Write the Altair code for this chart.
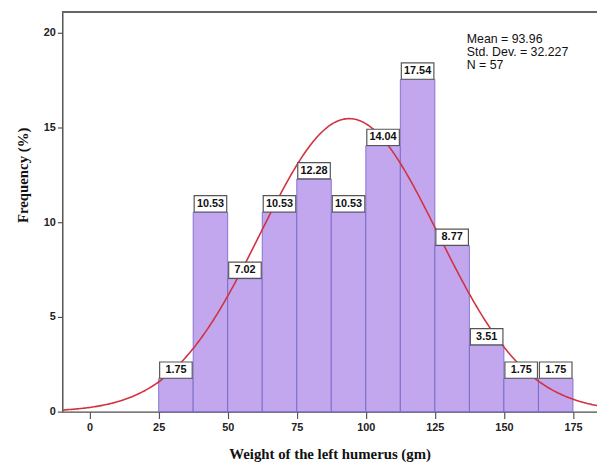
import altair as alt
import pandas as pd

bin_start = [25, 37.5, 50, 62.5, 75, 87.5, 100, 112.5, 125, 137.5, 150, 162.5]
bin_end = [37.5, 50, 62.5, 75, 87.5, 100, 112.5, 125, 137.5, 150, 162.5, 175]
percent = [1.75, 10.53, 7.02, 10.53, 12.28, 10.53, 14.04, 17.54, 8.77, 3.51, 1.75, 1.75]
x_ticks = [0, 25, 50, 75, 100, 125, 150, 175]
y_ticks = [0, 5, 10, 15, 20]
mean_val = 93.96
sd_val = 32.227
n_val = 57
bin_width = 12.5
stats_text = "Mean = 93.96\nStd. Dev. = 32.227\nN = 57"

W, H = 542, 405
XDOM = [-9.9, 183.7]
YDOM = [0, 21.1]

df = pd.DataFrame({"start": bin_start, "end": bin_end, "pct": percent})
df["mid"] = (df["start"] + df["end"]) / 2

xs = alt.Scale(domain=XDOM, nice=False, zero=False)
ys = alt.Scale(domain=YDOM, nice=False, zero=False)

x_axis = alt.Axis(values=x_ticks, title="Weight of the left humerus (gm)", grid=False,
                  labelFont="Liberation Sans", labelFontWeight="bold", labelFontSize=11,
                  labelColor="#222", domainColor="#555", domainWidth=1.5, tickColor="#555",
                  tickSize=7, tickWidth=1.2,
                  titleFont="Liberation Serif", titleFontSize=15, titleFontWeight="bold",
                  titleColor="#111", titlePadding=14, labelPadding=3)
y_axis = alt.Axis(values=y_ticks, title="Frequency (%)", grid=False,
                  labelFont="Liberation Sans", labelFontWeight="bold", labelFontSize=11,
                  labelColor="#222", domainColor="#555", domainWidth=1.5, tickColor="#555",
                  tickSize=5, tickWidth=1.2,
                  titleFont="Liberation Serif", titleFontSize=15, titleFontWeight="bold",
                  titleColor="#111", titleX=-40, titleY=165, titleAngle=270,
                  titleAlign="center", titleBaseline="middle", labelPadding=2)

base = alt.Chart(df)

bars = base.mark_rect(fill="#c2a7ef", stroke="#6f60c4", strokeWidth=0.8).encode(
    x=alt.X("start:Q", scale=xs, axis=x_axis),
    x2="end:Q",
    y=alt.Y("pct:Q", scale=ys, axis=y_axis),
    y2=alt.datum(0),
)

boxes = base.mark_point(
    shape="M-1,-0.5L1,-0.5L1,0.5L-1,0.5Z", size=33 * 33, filled=True,
    fill="white", stroke="#555", strokeWidth=1.2, opacity=1, yOffset=-8.5,
).encode(x=alt.X("mid:Q", scale=xs), y=alt.Y("pct:Q", scale=ys))

labels = base.mark_text(font="Liberation Sans", fontWeight="bold", fontSize=11,
                        color="#111", yOffset=-8.5, baseline="middle").encode(
    x=alt.X("mid:Q", scale=xs), y=alt.Y("pct:Q", scale=ys),
    text=alt.Text("pct:Q", format=".2f"))

curve = alt.Chart(alt.sequence(XDOM[0], XDOM[1] + 0.5, 0.5, as_="w")).transform_calculate(
    dens=f"100*{bin_width}/({sd_val}*sqrt(2*PI))*exp(-0.5*pow((datum.w-{mean_val})/{sd_val},2))"
).mark_line(color="#d2323f", strokeWidth=1.6, clip=True).encode(
    x=alt.X("w:Q", scale=xs), y=alt.Y("dens:Q", scale=ys))

top_rule = alt.Chart(df).mark_rule(color="#666", strokeWidth=1.5).encode(
    x=alt.value(0), x2=alt.value(W), y=alt.value(0))

stats = alt.Chart(pd.DataFrame({"t": [stats_text]})).mark_text(
    font="Liberation Sans", fontSize=12.5, align="left", baseline="middle",
    color="#111", lineBreak="\n", lineHeight=13.5).encode(
    x=alt.value(410), y=alt.value(27), text="t:N")

chart = alt.layer(bars, curve, boxes, labels, top_rule, stats).properties(
    width=W, height=H, autosize=alt.AutoSizeParams(type="none"),
    padding={"left": 55, "top": 1, "right": 0, "bottom": 54},
).configure_view(stroke=None).configure(background="white")

chart.save("out.html", embed_options={"renderer": "svg", "actions": False})
